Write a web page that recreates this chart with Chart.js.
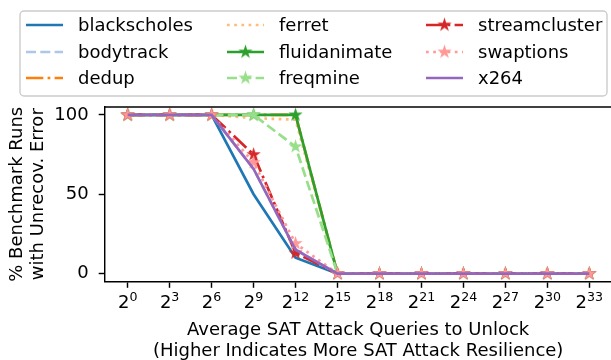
<!DOCTYPE html>
<html>
<head>
<meta charset="utf-8">
<script src="https://cdn.jsdelivr.net/npm/chart.js@4/dist/chart.umd.min.js"></script>
<style>
  html, body { margin: 0; padding: 0; background: #fff; overflow: hidden; width: 611px; height: 360px; }
  canvas { display: block; }
</style>
</head>
<body>
<!-- the plot frame runs past the right edge of the window, as in the reference -->
<canvas id="myChart" width="621" height="360"></canvas>
<script>
// x positions are the exponents of 2; tick labels are 2 raised to these
const exponents = [0, 3, 6, 9, 12, 15, 18, 21, 24, 27, 30, 33];
const tickBase = '2';
const tickLabels = ['0', '3', '6', '9', '12', '15', '18', '21', '24', '27', '30', '33'];
const yTicks = [0, 50, 100];

const names = ['blackscholes', 'bodytrack', 'dedup', 'ferret', 'fluidanimate',
               'freqmine', 'streamcluster', 'swaptions', 'x264'];

const blackscholes  = [100, 100, 100, 50, 10, 0, 0, 0, 0, 0, 0, 0];
const bodytrack     = [100, 100, 100, 66, 15, 0, 0, 0, 0, 0, 0, 0];
const dedup         = [100, 100, 100, 100, 100, 0, 0, 0, 0, 0, 0, 0];
const ferret        = [100, 100, 100, 98, 97, 0, 0, 0, 0, 0, 0, 0];
const fluidanimate  = [100, 100, 100, 100, 100, 0, 0, 0, 0, 0, 0, 0];
const freqmine      = [100, 100, 100, 100, 80, 0, 0, 0, 0, 0, 0, 0];
const streamcluster = [100, 100, 100, 75, 13, 0, 0, 0, 0, 0, 0, 0];
const swaptions     = [100, 100, 100, 70, 19, 0, 0, 0, 0, 0, 0, 0];
const x264          = [100, 100, 100, 66, 15, 0, 0, 0, 0, 0, 0, 0];

const values = [blackscholes, bodytrack, dedup, ferret, fluidanimate,
                freqmine, streamcluster, swaptions, x264];

// styles
const colors = ['#1f77b4', '#aec7e8', '#ff7f0e', '#ffbb78', '#2ca02c',
                '#98df8a', '#d62728', '#ff9896', '#9467bd'];
const LW = 2.7;
const dashes = [[], [10, 4.3], [17.3, 4.3, 2.7, 4.3], [2.7, 4.5], [],
                [10, 4.3], [17.3, 4.3, 2.7, 4.3], [2.7, 4.5], []];
const hasStar = [false, false, false, false, true, true, true, true, false];
const FONT = 'DejaVu Sans';

function makeStar(color, r) {
  const c = document.createElement('canvas');
  const s = Math.ceil(r * 2 + 2);
  c.width = s; c.height = s;
  const g = c.getContext('2d');
  g.translate(s / 2, s / 2);
  g.beginPath();
  for (let k = 0; k < 10; k++) {
    const rad = k % 2 === 0 ? r : r * 0.381966;
    const a = -Math.PI / 2 + k * Math.PI / 5;
    if (k === 0) g.moveTo(rad * Math.cos(a), rad * Math.sin(a));
    else g.lineTo(rad * Math.cos(a), rad * Math.sin(a));
  }
  g.closePath();
  g.fillStyle = color;
  g.fill();
  return c;
}

const datasets = names.map((n, i) => ({
  label: n,
  data: values[i].map((v, j) => ({x: exponents[j], y: v})),
  borderColor: colors[i],
  backgroundColor: colors[i],
  borderWidth: LW,
  borderDash: dashes[i],
  borderCapStyle: 'butt',
  pointStyle: hasStar[i] ? makeStar(colors[i], 7.5) : 'circle',
  pointRadius: hasStar[i] ? 7 : 0,
  pointHoverRadius: 0,
  tension: 0,
  fill: false,
  order: -i
}));

// 2^n tick labels with a raised, smaller exponent
const powerTicks = {
  id: 'powerTicks',
  afterDraw(chart) {
    const ctx = chart.ctx;
    const xs = chart.scales.x;
    const base = xs.top + 26.5;
    ctx.save();
    ctx.fillStyle = '#000';
    ctx.textBaseline = 'alphabetic';
    ctx.textAlign = 'left';
    exponents.forEach((e, i) => {
      ctx.font = '18px "' + FONT + '"';
      const w1 = ctx.measureText(tickBase).width;
      ctx.font = '12.6px "' + FONT + '"';
      const w2 = ctx.measureText(tickLabels[i]).width;
      const x = xs.getPixelForValue(e) - (w1 + w2) / 2;
      ctx.font = '18px "' + FONT + '"';
      ctx.fillText(tickBase, x, base);
      ctx.font = '12.6px "' + FONT + '"';
      ctx.fillText(tickLabels[i], x + w1, base - 6.7);
    });
    ctx.restore();
  }
};

// matplotlib-like legend box, 3 columns filled column by column
const legendBox = {
  id: 'legendBox',
  afterDraw(chart) {
    const ctx = chart.ctx;
    ctx.save();
    ctx.beginPath();
    ctx.roundRect(20, 11, 587, 85, 4);
    ctx.fillStyle = 'rgba(255,255,255,0.8)';
    ctx.fill();
    ctx.strokeStyle = '#cccccc';
    ctx.lineWidth = 1.4;
    ctx.stroke();
    const colX = [26, 227, 426];
    const rowY = [25, 52, 78];
    chart.data.datasets.forEach((ds, i) => {
      const x0 = colX[Math.floor(i / 3)];
      const y0 = rowY[i % 3];
      ctx.beginPath();
      ctx.setLineDash(ds.borderDash);
      ctx.lineCap = 'butt';
      ctx.strokeStyle = ds.borderColor;
      ctx.lineWidth = ds.borderWidth;
      ctx.moveTo(x0, y0);
      ctx.lineTo(x0 + 37, y0);
      ctx.stroke();
      ctx.setLineDash([]);
      if (typeof ds.pointStyle === 'object') {
        const im = ds.pointStyle;
        ctx.drawImage(im, x0 + 18.5 - im.width / 2, y0 - im.height / 2);
      }
      ctx.fillStyle = '#000';
      ctx.font = '18px "' + FONT + '"';
      ctx.textBaseline = 'middle';
      ctx.textAlign = 'left';
      ctx.fillText(ds.label, x0 + 52, y0 + 1);
    });
    // top spine
    const a = chart.chartArea;
    ctx.beginPath();
    ctx.strokeStyle = '#000';
    ctx.lineWidth = 1.44;
    ctx.moveTo(a.left - 0.7, a.top);
    ctx.lineTo(a.right, a.top);
    ctx.stroke();
    ctx.restore();
  }
};

Chart.defaults.color = '#000';
Chart.defaults.font.family = FONT;
Chart.defaults.font.size = 18;

const ctx = document.getElementById('myChart').getContext('2d');
const myChart = new Chart(ctx, {
  type: 'line',
  data: { datasets: datasets },
  options: {
    responsive: false,
    animation: false,
    events: [],
    layout: { padding: { top: 107, right: 0, bottom: 0, left: 0 } },
    plugins: { legend: { display: false }, tooltip: { enabled: false } },
    scales: {
      x: {
        type: 'linear',
        min: -1.62,
        max: 34.57,
        afterBuildTicks: s => { s.ticks = exponents.map(v => ({value: v})); },
        afterFit: s => { s.height = 78.5; s.paddingLeft = 0; s.paddingRight = 0; },
        ticks: { display: false },
        grid: { drawOnChartArea: false, drawTicks: true, tickLength: 6.3,
                tickWidth: 1.44, tickColor: '#000' },
        border: { color: '#000', width: 1.44 },
        title: {
          display: true,
          text: ['Average SAT Attack Queries to Unlock',
                 '(Higher Indicates More SAT Attack Resilience)'],
          font: { size: 18, lineHeight: 1.18 },
          padding: { top: 0, bottom: -2 }
        }
      },
      y: {
        min: -5,
        max: 105,
        afterBuildTicks: s => { s.ticks = yTicks.map(v => ({value: v})); },
        afterFit: s => { s.width = 105; s.paddingTop = 0; s.paddingBottom = 0; },
        ticks: { padding: 10 },
        grid: { drawOnChartArea: false, drawTicks: true, tickLength: 6.3,
                tickWidth: 1.44, tickColor: '#000' },
        border: { color: '#000', width: 1.44 },
        title: {
          display: true,
          text: ['% Benchmark Runs', 'with Unrecov. Error'],
          font: { size: 18, lineHeight: 1.15 },
          padding: { top: 7, bottom: 0 }
        }
      }
    }
  },
  plugins: [powerTicks, legendBox]
});
</script>
</body>
</html>
